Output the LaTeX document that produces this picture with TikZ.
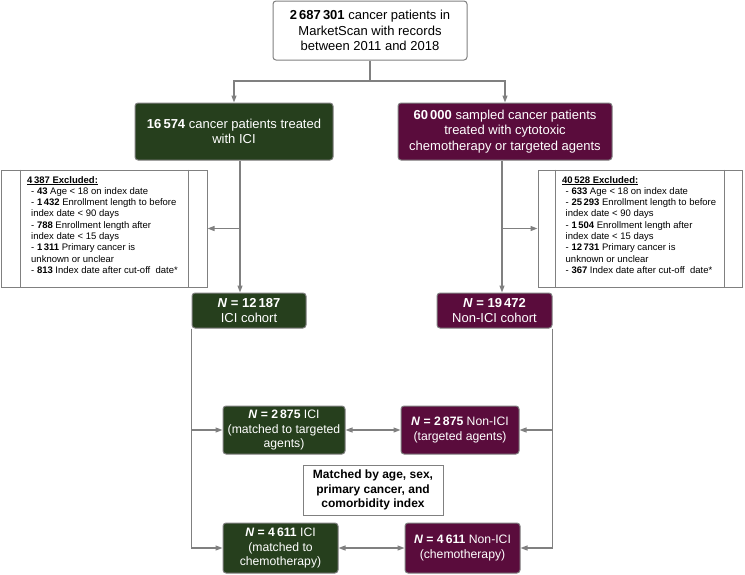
\documentclass[tikz,border=0pt]{standalone}
\usepackage{fontspec}
\setmainfont{Liberation Sans}
\usetikzlibrary{arrows.meta}
\definecolor{icigreen}{HTML}{263F1D}
\definecolor{nonmaroon}{HTML}{5A0C3C}
\definecolor{linegray}{HTML}{808080}
\begin{document}
\begin{tikzpicture}[x=1pt,y=-1pt,
  basebox/.style={draw=linegray, line width=1pt, inner sep=0pt, align=center},
  whitebox/.style={basebox, rounded corners=3pt, fill=white, text=black},
  greenbox/.style={basebox, rounded corners=3pt, fill=icigreen, text=white},
  maroonbox/.style={basebox, rounded corners=3pt, fill=nonmaroon, text=white},
  exclbox/.style={basebox, fill=white},
  fbig/.style={font=\fontsize{13}{15.5}\selectfont},
  fmid/.style={font=\fontsize{12.2}{14.5}\selectfont},
  fsmall/.style={font=\fontsize{9.5}{11.3}\selectfont},
  arr/.style={draw=linegray, line width=1.2pt, -{Triangle[length=7pt,width=5pt]}},
  dbl/.style={draw=linegray, line width=1.2pt, {Triangle[length=7pt,width=5pt]}-{Triangle[length=7pt,width=5pt]}},
  inner/.style={draw=linegray, line width=1pt}
]
\useasboundingbox (0,0) rectangle (745,574);

% top box
\node[whitebox, fbig, minimum width=194pt, minimum height=59pt] (top) at (370,30.5)
  {\textbf{2\,687\,301} cancer patients in\\MarketScan with records\\between 2011 and 2018};

% cohorts
\node[greenbox, fbig, minimum width=198pt, minimum height=57pt] (ici) at (234,131.5)
  {\textbf{16\,574} cancer patients treated\\with ICI};
\node[maroonbox, fbig, minimum width=214pt, minimum height=57pt] (non) at (505,131.5)
  {\textbf{60\,000} sampled cancer patients\\treated with cytotoxic\\chemotherapy or targeted agents};

% excluded boxes
\node[exclbox, minimum width=206pt, minimum height=117pt] (exL) at (104,228.5) {};
\node[exclbox, minimum width=204pt, minimum height=117pt] (exR) at (640,228.5) {};
\draw[inner] ([xshift=20pt]exL.north west) -- ([xshift=20pt]exL.south west);
\draw[inner] ([xshift=-19pt]exL.north east) -- ([xshift=-19pt]exL.south east);
\draw[inner] ([xshift=18pt]exR.north west) -- ([xshift=18pt]exR.south west);
\draw[inner] ([xshift=-18pt]exR.north east) -- ([xshift=-18pt]exR.south east);

\node[fsmall, align=left, inner sep=0pt, anchor=north west] (exLt) at (27,176)
  {\underline{\textbf{4\,387 Excluded:}}\\
   \hspace*{4pt}- \textbf{43} Age < 18 on index date\\
   \hspace*{4pt}- \textbf{1\,432} Enrollment length to before\\
   \hspace*{4pt}index date < 90 days\\
   \hspace*{4pt}- \textbf{788} Enrollment length after\\
   \hspace*{4pt}index date < 15 days\\
   \hspace*{4pt}- \textbf{1\,311} Primary cancer is\\
   \hspace*{4pt}unknown or unclear\\
   \hspace*{4pt}- \textbf{813} Index date after cut-off~ date*};
\node[fsmall, align=left, inner sep=0pt, anchor=north west] (exRt) at (562,176)
  {\underline{\textbf{40\,528 Excluded:}}\\
   \hspace*{3.5pt}- \textbf{633} Age < 18 on index date\\
   \hspace*{3.5pt}- \textbf{25\,293} Enrollment length to before\\
   \hspace*{3.5pt}index date < 90 days\\
   \hspace*{3.5pt}- \textbf{1\,504} Enrollment length after\\
   \hspace*{3.5pt}index date < 15 days\\
   \hspace*{3.5pt}- \textbf{12\,731} Primary cancer is\\
   \hspace*{3.5pt}unknown or unclear\\
   \hspace*{3.5pt}- \textbf{367} Index date after cut-off~ date*};

% N cohorts
\node[greenbox, fbig, minimum width=114pt, minimum height=35pt] (n1) at (249,310.5)
  {\textbf{\textit{N} = 12\,187}\\ICI cohort};
\node[maroonbox, fbig, minimum width=115pt, minimum height=35pt] (n2) at (494.5,310.5)
  {\textbf{\textit{N} = 19\,472}\\Non-ICI cohort};

% matched
\node[greenbox, fmid, minimum width=122pt, minimum height=48pt] (g1) at (284,430)
  {\textbf{\textit{N} = 2\,875} ICI\\(matched to targeted\\agents)};
\node[maroonbox, fmid, minimum width=118pt, minimum height=48pt] (m1) at (460,430)
  {\textbf{\textit{N} = 2\,875} Non-ICI\\(targeted agents)};
\node[exclbox, font=\fontsize{12}{14.5}\selectfont\bfseries, minimum width=140pt, minimum height=50pt] (mt) at (373,490)
  {Matched by age, sex,\\primary cancer, and\\comorbidity index};
\node[greenbox, fmid, minimum width=115pt, minimum height=50pt] (g2) at (280.5,548)
  {\textbf{\textit{N} = 4\,611} ICI\\(matched to\\chemotherapy)};
\node[maroonbox, fmid, minimum width=115pt, minimum height=50pt] (m2) at (462.5,548)
  {\textbf{\textit{N} = 4\,611} Non-ICI\\(chemotherapy)};

% connectors
\coordinate (split) at (370,81);
\draw[draw=linegray, line width=1.2pt] (top.south) -- (split);
\draw[arr] (split) -| (ici.north);
\draw[arr] (split) -| (non.north);

\coordinate (gx) at (240,0);
\coordinate (rx) at (502,0);
\draw[arr] (ici.south -| gx) -- (n1.north -| gx);
\draw[arr] (gx |- exL.east) -- (exL.east);
\draw[arr] (non.south -| rx) -- (n2.north -| rx);
\draw[arr] (rx |- exR.west) -- (exR.west);

\draw[arr] (n1.south west) |- (g1.west);
\draw[arr] (n1.south west) |- (g2.west);
\draw[arr] (n2.south east) |- (m1.east);
\draw[arr] (n2.south east) |- (m2.east);

\draw[dbl] (g1.east) -- (m1.west);
\draw[dbl] (g2.east) -- (g2.east -| m2.west);
\end{tikzpicture}
\end{document}
